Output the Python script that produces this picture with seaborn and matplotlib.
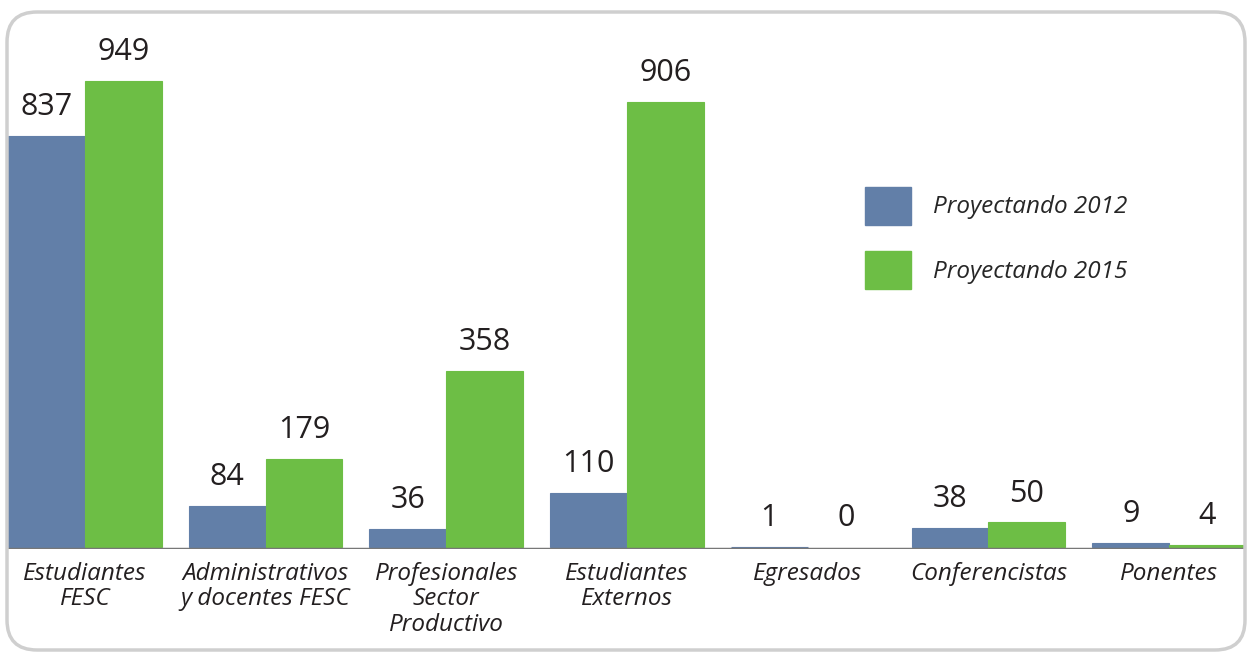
import pandas as pd
import matplotlib.pyplot as plt
import seaborn as sns
from matplotlib.patches import FancyBboxPatch

categorias = ["Estudiantes\nFESC", "Administrativos\ny docentes FESC", "Profesionales\nSector\nProductivo",
              "Estudiantes\nExternos", "Egresados", "Conferencistas", "Ponentes"]
valores_2012 = [837, 84, 36, 110, 1, 38, 9]
valores_2015 = [949, 179, 358, 906, 0, 50, 4]
series = ["Proyectando 2012", "Proyectando 2015"]
colores = ["#627FA8", "#6DBE45"]

df = pd.DataFrame({
    "categoria": categorias * 2,
    "valor": valores_2012 + valores_2015,
    "serie": [series[0]] * len(categorias) + [series[1]] * len(categorias),
})

sns.set_theme(style="white")
plt.rcParams["font.family"] = ["Open Sans", "DejaVu Sans"]

fig = plt.figure(figsize=(12.49, 6.54), dpi=100)
ax = fig.add_axes([8 / 1249, 105 / 654, 1238 / 1249, (549 - 56) / 654])

sns.barplot(data=df, x="categoria", y="valor", hue="serie", palette=colores,
            width=0.85, ax=ax, saturation=1, legend=False, linewidth=0)

# barras muy bajas: borde del mismo color para que se vean como en el original
for p in ax.patches:
    if p.get_height() > 0:
        p.set_edgecolor(p.get_facecolor())
        p.set_linewidth(0.8)

ax.set_xlim(-0.425, 6.425)
ax.set_ylim(-4, 1000)
for c in ax.containers:
    ax.bar_label(c, padding=10, fontsize=22, color="#231f20")

# línea base justo debajo de las barras
ax.axhline(-3.5, color="#777777", lw=2.5, zorder=5)
sns.despine(ax=ax, left=True, bottom=True)
ax.set_yticks([])
ax.set_xlabel("")
ax.set_ylabel("")
ax.tick_params(axis="x", length=0, pad=9)
ax.set_xticks(range(len(categorias)))
ax.set_xticklabels(categorias, fontsize=17.5, style="italic", color="#231f20",
                   va="top", linespacing=1.1)

# leyenda
handles = [plt.Rectangle((0, 0), 1, 1, color=col) for col in colores]
fig.legend(handles, series, loc="upper left", bbox_to_anchor=(865 / 1249, 1 - 187 / 654),
           frameon=False, prop={"style": "italic", "size": 17.5},
           handlelength=1.9, handleheight=2.0, handletextpad=0.9,
           labelspacing=1.1, borderpad=0, borderaxespad=0)

# marco redondeado
marco = FancyBboxPatch((0.07, 0.04), 12.38, 6.38, boxstyle="round,pad=0,rounding_size=0.3",
                       transform=fig.dpi_scale_trans, fill=False, edgecolor="#cfcfcf", lw=2.5)
fig.patches.append(marco)

fig.savefig("out.png", dpi=100)
